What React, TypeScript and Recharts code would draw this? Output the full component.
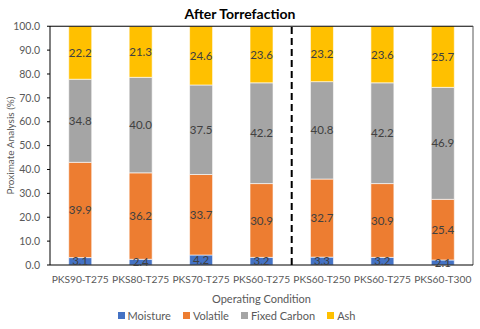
import React from "react";
import {
  BarChart,
  Bar,
  XAxis,
  YAxis,
  Legend,
  LabelList,
  ReferenceLine,
} from "recharts";

const categories = [
  "PKS90-T275",
  "PKS80-T275",
  "PKS70-T275",
  "PKS60-T275",
  "PKS60-T250",
  "PKS60-T275",
  "PKS60-T300",
];
const moisture = [3.1, 2.4, 4.2, 3.2, 3.3, 3.2, 2.1];
const volatile = [39.9, 36.2, 33.7, 30.9, 32.7, 30.9, 25.4];
const fixedCarbon = [34.8, 40.0, 37.5, 42.2, 40.8, 42.2, 46.9];
const ash = [22.2, 21.3, 24.6, 23.6, 23.2, 23.6, 25.7];
const yTicks = [0, 10, 20, 30, 40, 50, 60, 70, 80, 90, 100];

const FONT = "Lato, 'Liberation Sans', sans-serif";
const TEXT = "#595959";

// ids keep the two PKS60-T275 columns apart
const data = categories.map((c, i) => ({
  id: String(i),
  name: c,
  moisture: moisture[i],
  volatile: volatile[i],
  fixedCarbon: fixedCarbon[i],
  ash: ash[i],
}));

const series = [
  { key: "moisture", name: "Moisture", color: "#4472C4" },
  { key: "volatile", name: "Volatile", color: "#ED7D31" },
  { key: "fixedCarbon", name: "Fixed Carbon", color: "#A5A5A5" },
  { key: "ash", name: "Ash", color: "#FFC000" },
];

function YTitle(props: any) {
  const { viewBox } = props;
  const cy = viewBox.y + viewBox.height / 2;
  return (
    <text
      x={10}
      y={cy}
      transform={`rotate(-90, 10, ${cy})`}
      textAnchor="middle"
      dominantBaseline="central"
      fill={TEXT}
      fontSize={10}
      fontFamily={FONT}
    >
      Proximate Analysis (%)
    </text>
  );
}

function LegendBox() {
  return (
    <div style={{ display: "flex", justifyContent: "center", gap: 12, fontFamily: FONT, fontSize: 11, color: TEXT }}>
      {series.map((s) => (
        <span key={s.key} style={{ display: "flex", alignItems: "center" }}>
          <span style={{ width: 7, height: 7, background: s.color, marginRight: 3, display: "inline-block" }} />
          {s.name}
        </span>
      ))}
    </div>
  );
}

export default function App() {
  return (
    <div style={{ position: "absolute", left: 0, top: 0, width: 480, height: 329, background: "#fff" }}>
      <div
        style={{
          position: "absolute",
          top: 5,
          width: 480,
          textAlign: "center",
          fontFamily: FONT,
          fontWeight: 700,
          fontSize: 14,
          color: "#000",
          zIndex: 1,
        }}
      >
        After Torrefaction
      </div>
      <BarChart
        width={480}
        height={329}
        data={data}
        margin={{ top: 26, right: 7, left: 0, bottom: 7 }}
        barCategoryGap="31%"
      >
        <XAxis
          dataKey="id"
          tickFormatter={(v) => categories[Number(v)]}
          tickLine={false}
          axisLine={{ stroke: "#000" }}
          tick={{ fill: TEXT, fontSize: 10.2, fontFamily: FONT }}
          tickMargin={5}
          interval={0}
          height={44}
          label={{
            value: "Operating Condition",
            position: "insideBottom",
            offset: 6,
            fill: TEXT,
            fontSize: 11,
            fontFamily: FONT,
          }}
        />
        <YAxis
          domain={[0, 100]}
          ticks={yTicks}
          width={50}
          tickSize={3}
          tickMargin={7}
          tickLine={{ stroke: "#000" }}
          axisLine={{ stroke: "#000" }}
          tickFormatter={(v) => Number(v).toFixed(1)}
          tick={{ fill: TEXT, fontSize: 10.5, fontFamily: FONT }}
          label={<YTitle />}
        />
        <Legend verticalAlign="bottom" content={<LegendBox />} />
        {series.map((s) => (
          <Bar
            key={s.key}
            dataKey={s.key}
            name={s.name}
            stackId="a"
            fill={s.color}
            stroke="#ffffff"
            strokeWidth={0.6}
            isAnimationActive={false}
          >
            <LabelList
              dataKey={s.key}
              position="center"
              formatter={(v: any) => Number(v).toFixed(1)}
              fill="#404040"
              fontSize={11.5}
              fontFamily={FONT}
            />
          </Bar>
        ))}
        <ReferenceLine y={100} stroke="#000" strokeWidth={1} />
        <ReferenceLine x="6" position="end" stroke="#595959" strokeWidth={1} />
        <ReferenceLine
          x="3"
          position="end"
          stroke="#000"
          strokeWidth={2}
          strokeDasharray="7 4"
        />
      </BarChart>
    </div>
  );
}
